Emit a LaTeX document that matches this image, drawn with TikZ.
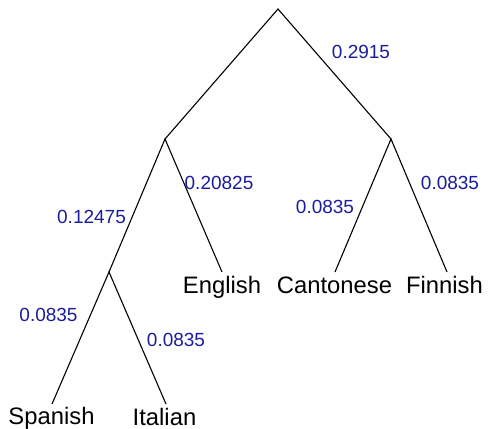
\documentclass[tikz,border=0pt]{standalone}
\usepackage{fontspec}
\setmainfont{Liberation Sans}
\definecolor{lenblue}{RGB}{28,28,158}
\begin{document}
\begin{tikzpicture}[x=1pt,y=-1pt,
  branch/.style={draw=black,line width=1.1pt},
  leaf/.style={anchor=base,inner sep=0pt,font=\fontsize{23.8}{28}\selectfont},
  blen/.style={anchor=base,inner sep=0pt,text=lenblue,font=\fontsize{19}{22}\selectfont}]
\useasboundingbox (0,0) rectangle (488,429);
% internal points of the tree
\coordinate (root) at (278,9);
\coordinate (ie) at (165,139);
\coordinate (cf) at (391,139);
\coordinate (si) at (109,272);
% ends of the leaf branches
\coordinate (eng) at (222,272);
\coordinate (can) at (335,272);
\coordinate (fin) at (447,272);
\coordinate (spa) at (52,404);
\coordinate (ita) at (166,404);
% branches
\draw[branch] (ie) -- (root) -- (cf);
\draw[branch] (si) -- (ie) -- (eng);
\draw[branch] (can) -- (cf) -- (fin);
\draw[branch] (spa) -- (si) -- (ita);
% leaf names
\node[leaf] (tEng) at (222,293) {English};
\node[leaf] (tCan) at (334.5,293) {Cantonese};
\node[leaf] (tFin) at (444.5,293) {Finnish};
\node[leaf] (tSpa) at (51.5,424) {Spanish};
\node[leaf] (tIta) at (164.5,425) {Italian};
% branch lengths
\node[blen] (l1) at (361,58) {0.2915};
\node[blen] (l2) at (91.5,223) {0.12475};
\node[blen] (l3) at (219,189) {0.20825};
\node[blen] (l4) at (325,213) {0.0835};
\node[blen] (l5) at (450,189) {0.0835};
\node[blen] (l6) at (48.5,321) {0.0835};
\node[blen] (l7) at (176,346) {0.0835};
\end{tikzpicture}
\end{document}
